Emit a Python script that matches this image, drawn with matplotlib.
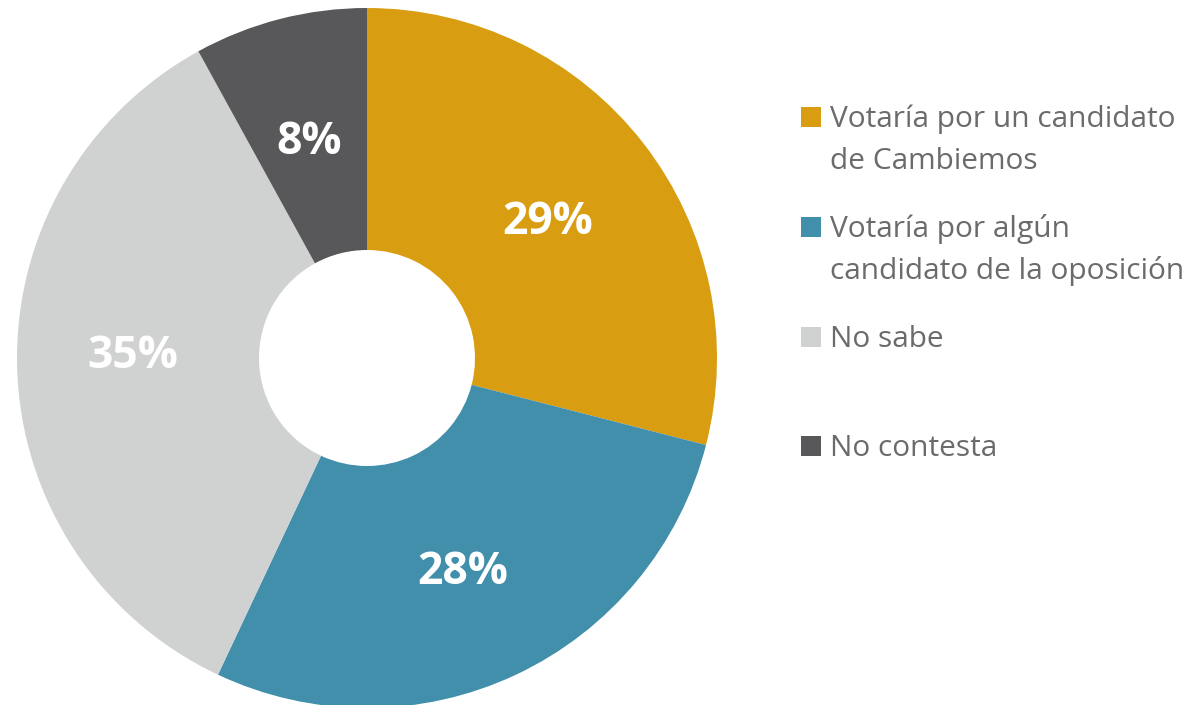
import matplotlib
matplotlib.use("Agg")
import matplotlib.pyplot as plt
from matplotlib.patches import Rectangle

categories = ["Votaría por un candidato\nde Cambiemos",
              "Votaría por algún\ncandidato de la oposición",
              "No sabe",
              "No contesta"]
values = [29, 28, 35, 8]
labels = ["29%", "28%", "35%", "8%"]
colors = ["#D99D12", "#418FAB", "#D0D1D1", "#58585A"]

plt.rcParams['font.family'] = ['Open Sans', 'DejaVu Sans']

W, H = 1196, 705
fig = plt.figure(figsize=(W / 100, H / 100), dpi=100)

# pie axes: center (367, 358) px, radius 350 px
cx, cy, R = 367, 358, 350
ax = fig.add_axes([(cx - R) / W, (H - cy - R) / H, 2 * R / W, 2 * R / H])
ax.axis('off')
wedges, _ = ax.pie(values, colors=colors, startangle=90, counterclock=False,
                   radius=1.0, wedgeprops=dict(width=1 - 108 / 350, linewidth=0),
                   center=(0, 0), frame=False)
ax.set_xlim(-1, 1)
ax.set_ylim(-1, 1)
ax.set_aspect('equal')

# overlay in pixel coordinates
ov = fig.add_axes([0, 0, 1, 1], facecolor='none')
ov.set_xlim(0, W)
ov.set_ylim(H, 0)
ov.axis('off')

label_pos = [(548, 222), (463, 573), (133, 357), (309, 142)]
for (x, y), t in zip(label_pos, labels):
    ov.text(x, y, t, color='white', fontsize=32, fontweight='bold',
            ha='center', va='center')

leg_baselines = [127, 237, 347, 456]
for yb, cat, col in zip(leg_baselines, categories, colors):
    ov.add_patch(Rectangle((801, yb - 20), 20, 20, facecolor=col, edgecolor='none'))
    for i, line in enumerate(cat.split("\n")):
        ov.text(830, yb + 42 * i, line, color='#6B6B6B', fontsize=21.5,
                ha='left', va='baseline')

fig.savefig("out.png", dpi=100)
